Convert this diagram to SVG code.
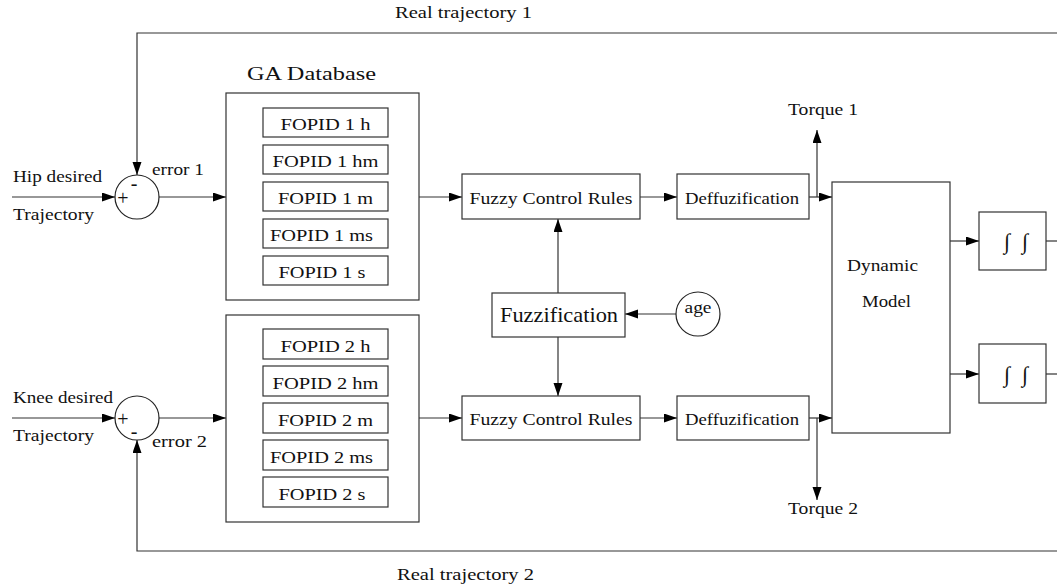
<svg xmlns="http://www.w3.org/2000/svg" width="1057" height="587" viewBox="0 0 1057 587">
<style>
text{font-family:'Liberation Serif','DejaVu Serif','Times New Roman',serif;font-size:17px;fill:#111}
.box{fill:#fff;stroke:#333;stroke-width:1.2}
.circ{fill:#fff;stroke:#222;stroke-width:1.2}
.ln{fill:none;stroke:#333;stroke-width:1.2}
.arr{marker-end:url(#ah)}
.mid{text-anchor:middle}
.sgn{font-size:20px}
.int{font-size:22px;font-style:italic}
</style>
<defs>
<marker id="ah" markerUnits="userSpaceOnUse" markerWidth="14" markerHeight="10" refX="13" refY="4.5" orient="auto">
<path d="M0,0 L13,4.5 L0,9 z" fill="#000"/>
</marker>
</defs>
<rect width="1057" height="587" fill="#fff"/>

<g id="connectors">
<path class="ln arr" d="M12,197 H115"/>
<path class="ln arr" d="M12,418 H115"/>
<path class="ln arr" d="M159,197 H226"/>
<path class="ln arr" d="M159,418 H226"/>
<path class="ln arr" d="M1057,33 H137 V175"/>
<path class="ln arr" d="M1057,551 H137 V440"/>
<path class="ln arr" d="M419,197 H462"/>
<path class="ln arr" d="M419,418 H462"/>
<path class="ln arr" d="M640,197 H677"/>
<path class="ln arr" d="M640,418 H677"/>
<path class="ln arr" d="M809,197 H832"/>
<path class="ln arr" d="M809,418 H832"/>
<path class="ln arr" d="M817,197 V130"/>
<path class="ln arr" d="M817,418 V500"/>
<path class="ln arr" d="M558,293 V219"/>
<path class="ln arr" d="M558,337 V396"/>
<path class="ln arr" d="M676,314 H625"/>
<path class="ln arr" d="M950,241 H979"/>
<path class="ln arr" d="M950,374 H979"/>
<path class="ln" d="M1046,241 H1057"/>
<path class="ln" d="M1046,374 H1057"/>
</g>

<g id="labels">
<text x="395" y="18" textLength="137" lengthAdjust="spacingAndGlyphs">Real trajectory 1</text>
<text x="397" y="580" textLength="137" lengthAdjust="spacingAndGlyphs">Real trajectory 2</text>
<text x="13" y="182" textLength="89" lengthAdjust="spacingAndGlyphs">Hip desired</text>
<text x="13" y="220" textLength="81" lengthAdjust="spacingAndGlyphs">Trajectory</text>
<text x="13" y="403" textLength="100" lengthAdjust="spacingAndGlyphs">Knee desired</text>
<text x="13" y="441" textLength="81" lengthAdjust="spacingAndGlyphs">Trajectory</text>
<text x="152" y="175" textLength="52" lengthAdjust="spacingAndGlyphs">error 1</text>
<text x="152" y="447" textLength="55" lengthAdjust="spacingAndGlyphs">error 2</text>
<text x="788" y="115" textLength="70" lengthAdjust="spacingAndGlyphs">Torque 1</text>
<text x="788" y="514" textLength="70" lengthAdjust="spacingAndGlyphs">Torque 2</text>
</g>

<g id="sum1">
<circle class="circ" cx="137" cy="197" r="22"/>
<text x="134" y="190" class="mid sgn">-</text>
<text x="123" y="205" class="mid sgn">+</text>
</g>
<g id="sum2">
<circle class="circ" cx="137" cy="418" r="22"/>
<text x="123" y="426" class="mid sgn">+</text>
<text x="134" y="438" class="mid sgn">-</text>
</g>

<g id="ga-db-title">
<text x="247" y="80" textLength="129" lengthAdjust="spacingAndGlyphs" style="font-size:19px">GA Database</text>
</g>

<g id="ga1">
<rect class="box" x="226" y="93" width="193" height="207"/>
<g id="fopid1h"><rect class="box" x="263" y="108" width="125" height="29"/><text x="325.5" y="130" class="mid" textLength="90" lengthAdjust="spacingAndGlyphs">FOPID 1 h</text></g>
<g id="fopid1hm"><rect class="box" x="263" y="145" width="125" height="29"/><text x="325.5" y="167" class="mid" textLength="106" lengthAdjust="spacingAndGlyphs">FOPID 1 hm</text></g>
<g id="fopid1m"><rect class="box" x="263" y="182" width="125" height="29"/><text x="325.5" y="204" class="mid" textLength="95" lengthAdjust="spacingAndGlyphs">FOPID 1 m</text></g>
<g id="fopid1ms"><rect class="box" x="263" y="219" width="125" height="29"/><text x="321.5" y="241" class="mid" textLength="103" lengthAdjust="spacingAndGlyphs">FOPID 1 ms</text></g>
<g id="fopid1s"><rect class="box" x="263" y="256" width="125" height="29"/><text x="322" y="278" class="mid" textLength="87" lengthAdjust="spacingAndGlyphs">FOPID 1 s</text></g>
</g>

<g id="ga2">
<rect class="box" x="226" y="315" width="193" height="207"/>
<g id="fopid2h"><rect class="box" x="263" y="329" width="125" height="30"/><text x="325.5" y="352" class="mid" textLength="90" lengthAdjust="spacingAndGlyphs">FOPID 2 h</text></g>
<g id="fopid2hm"><rect class="box" x="263" y="366" width="125" height="30"/><text x="325.5" y="389" class="mid" textLength="106" lengthAdjust="spacingAndGlyphs">FOPID 2 hm</text></g>
<g id="fopid2m"><rect class="box" x="263" y="403" width="125" height="30"/><text x="325.5" y="426" class="mid" textLength="95" lengthAdjust="spacingAndGlyphs">FOPID 2 m</text></g>
<g id="fopid2ms"><rect class="box" x="263" y="440" width="125" height="30"/><text x="321.5" y="463" class="mid" textLength="103" lengthAdjust="spacingAndGlyphs">FOPID 2 ms</text></g>
<g id="fopid2s"><rect class="box" x="263" y="477" width="125" height="30"/><text x="322" y="500" class="mid" textLength="87" lengthAdjust="spacingAndGlyphs">FOPID 2 s</text></g>
</g>

<g id="fcr1">
<rect class="box" x="462" y="174" width="178" height="45"/>
<text x="551" y="204" class="mid" textLength="163" lengthAdjust="spacingAndGlyphs">Fuzzy Control Rules</text>
</g>
<g id="fcr2">
<rect class="box" x="462" y="396" width="178" height="44"/>
<text x="551" y="425" class="mid" textLength="163" lengthAdjust="spacingAndGlyphs">Fuzzy Control Rules</text>
</g>
<g id="deff1">
<rect class="box" x="677" y="174" width="132" height="45"/>
<text x="742" y="204" class="mid" textLength="114" lengthAdjust="spacingAndGlyphs">Deffuzification</text>
</g>
<g id="deff2">
<rect class="box" x="677" y="396" width="132" height="44"/>
<text x="742" y="425" class="mid" textLength="114" lengthAdjust="spacingAndGlyphs">Deffuzification</text>
</g>
<g id="fuzzification">
<rect class="box" x="492" y="293" width="133" height="44"/>
<text x="559" y="322" class="mid" textLength="118" lengthAdjust="spacingAndGlyphs" style="font-size:21px">Fuzzification</text>
</g>
<g id="age">
<circle class="circ" cx="698" cy="314" r="22"/>
<text x="698" y="313" class="mid" textLength="27" lengthAdjust="spacingAndGlyphs" style="font-size:16px">age</text>
</g>
<g id="dynamic-model">
<rect class="box" x="832" y="182" width="118" height="251"/>
<text x="882.5" y="271" class="mid" textLength="71" lengthAdjust="spacingAndGlyphs">Dynamic</text>
<text x="886.5" y="307" class="mid" textLength="49" lengthAdjust="spacingAndGlyphs">Model</text>
</g>
<g id="int1">
<rect class="box" x="979" y="212" width="67" height="58"/>
<text x="1007" y="249" class="mid int">∫</text>
<text x="1025" y="249" class="mid int">∫</text>
</g>
<g id="int2">
<rect class="box" x="979" y="344" width="67" height="59"/>
<text x="1007" y="382" class="mid int">∫</text>
<text x="1025" y="382" class="mid int">∫</text>
</g>
</svg>
